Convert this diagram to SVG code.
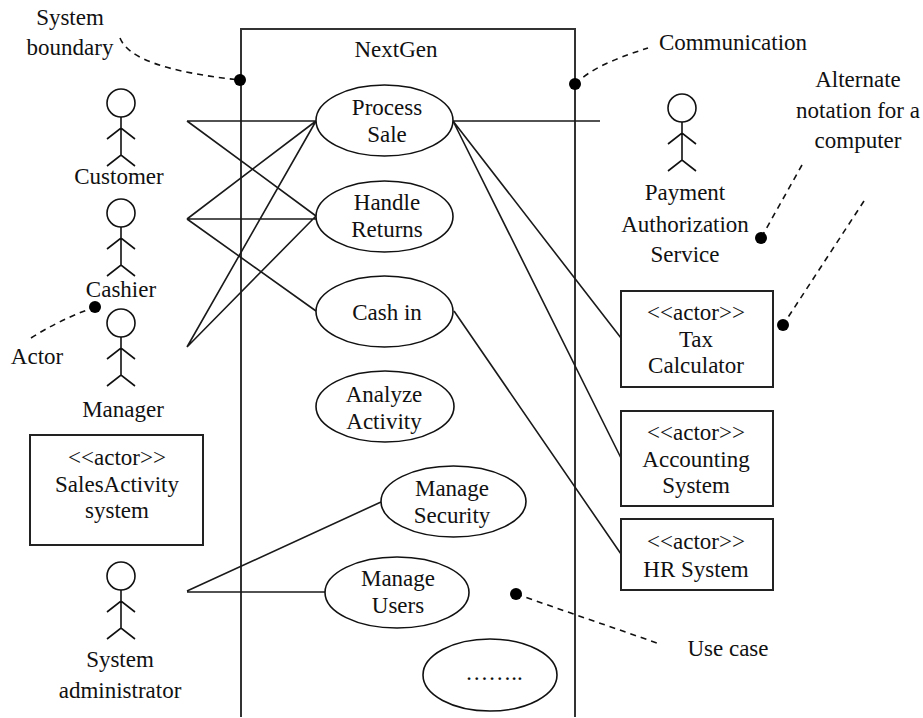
<svg xmlns="http://www.w3.org/2000/svg" width="923" height="718" viewBox="0 0 923 718">
<style>
.l{fill:none;stroke:#1a1a1a;stroke-width:1.6}
.f{fill:none;stroke:#333;stroke-width:2}
.d{fill:none;stroke:#111;stroke-width:1.6;stroke-dasharray:6 5}
.n{fill:#fff;stroke:#222;stroke-width:2}
.o{fill:#fff;stroke:#111;stroke-width:1.6}
.s{fill:none;stroke:#111;stroke-width:1.6}
.b{fill:#000;stroke:none}
text{font-family:"Liberation Serif","Times New Roman",serif;font-size:23px;fill:#111;text-anchor:middle}
</style>
<defs>
<g id="stick"><circle class="o" cx="0" cy="0" r="14"/><path class="s" d="M0 14V52M-14 36L0 25L14 36M-14 63L0 52L14 63"/></g>
</defs>
<rect width="923" height="718" fill="#fff"/>
<g id="connectors">
<path class="f" d="M241 717V29H575V717"/>
<path class="l" d="M187 121H316M187 121L316 216M187 219L316 121M187 219H316M187 219L316 311M187 347L316 121M187 347L316 216"/>
<path class="l" d="M453 121H600M453 121L621 338M453 121L621 458M454 311L621 554"/>
<path class="l" d="M187 591L381 502M187 592H325"/>
<path class="d" d="M120 38C128 58 165 72 240 80"/>
<path class="d" d="M575 84C590 70 610 60 648 48"/>
<path class="d" d="M802 165L761 238"/>
<path class="d" d="M864 201L783 325"/>
<path class="d" d="M31 338C50 326 70 316 95 307"/>
<path class="d" d="M516 594L657 643"/>
<circle class="b" cx="240" cy="80" r="6"/><circle class="b" cx="575" cy="84" r="6"/><circle class="b" cx="761" cy="238" r="6"/><circle class="b" cx="783" cy="325" r="6"/><circle class="b" cx="95" cy="307" r="6"/><circle class="b" cx="516" cy="594" r="6"/>
</g>
<g id="customer"><use href="#stick" x="121" y="103"/><text x="119" y="184">Customer</text></g>
<g id="cashier"><use href="#stick" x="121" y="213"/><text x="121" y="297">Cashier</text></g>
<g id="manager"><use href="#stick" x="121" y="323"/><text x="123" y="417">Manager</text></g>
<g id="sysadmin"><use href="#stick" x="121" y="576"/><text x="120" y="667">System</text><text x="120" y="698">administrator</text></g>
<g id="payment"><use href="#stick" x="682" y="108"/><text x="685" y="200">Payment</text><text x="685" y="232">Authorization</text><text x="685" y="262">Service</text></g>
<g id="salesactivity"><rect class="n" x="30" y="435" width="173" height="110"/><text x="117" y="465">&lt;&lt;actor&gt;&gt;</text><text x="117" y="492">SalesActivity</text><text x="117" y="518">system</text></g>
<g id="tax"><rect class="n" x="621" y="291" width="152" height="96"/><text x="696" y="320">&lt;&lt;actor&gt;&gt;</text><text x="696" y="347">Tax</text><text x="696" y="373">Calculator</text></g>
<g id="accounting"><rect class="n" x="621" y="411" width="152" height="95"/><text x="696" y="440">&lt;&lt;actor&gt;&gt;</text><text x="696" y="467">Accounting</text><text x="696" y="493">System</text></g>
<g id="hr"><rect class="n" x="621" y="519" width="152" height="71"/><text x="696" y="549">&lt;&lt;actor&gt;&gt;</text><text x="696" y="577">HR System</text></g>
<g id="process"><ellipse class="o" cx="384.500" cy="120.500" rx="68.500" ry="35.500"/><text x="387" y="115">Process</text><text x="387" y="142">Sale</text></g>
<g id="returns"><ellipse class="o" cx="384.500" cy="216.500" rx="68.500" ry="35.500"/><text x="387" y="210">Handle</text><text x="387" y="237">Returns</text></g>
<g id="cashin"><ellipse class="o" cx="384.500" cy="311.500" rx="68.500" ry="35.500"/><text x="387" y="320">Cash in</text></g>
<g id="analyze"><ellipse class="o" cx="385" cy="406.500" rx="69" ry="35.500"/><text x="384" y="402">Analyze</text><text x="384" y="429">Activity</text></g>
<g id="security"><ellipse class="o" cx="453.500" cy="501.500" rx="72.500" ry="35.500"/><text x="452" y="496">Manage</text><text x="452" y="523">Security</text></g>
<g id="users"><ellipse class="o" cx="397" cy="592.500" rx="72" ry="35.500"/><text x="398" y="586">Manage</text><text x="398" y="613">Users</text></g>
<g id="more"><ellipse class="o" cx="490" cy="675" rx="67" ry="36"/><text x="494" y="680">……..</text></g>
<g id="labels">
<text x="396" y="57">NextGen</text>
<text x="70" y="25">System</text><text x="70" y="55">boundary</text>
<text x="733" y="50">Communication</text>
<text x="858" y="87">Alternate</text><text x="858" y="118">notation for a</text><text x="858" y="148">computer</text>
<text x="37" y="364">Actor</text>
<text x="728" y="656">Use case</text>
</g>
</svg>
